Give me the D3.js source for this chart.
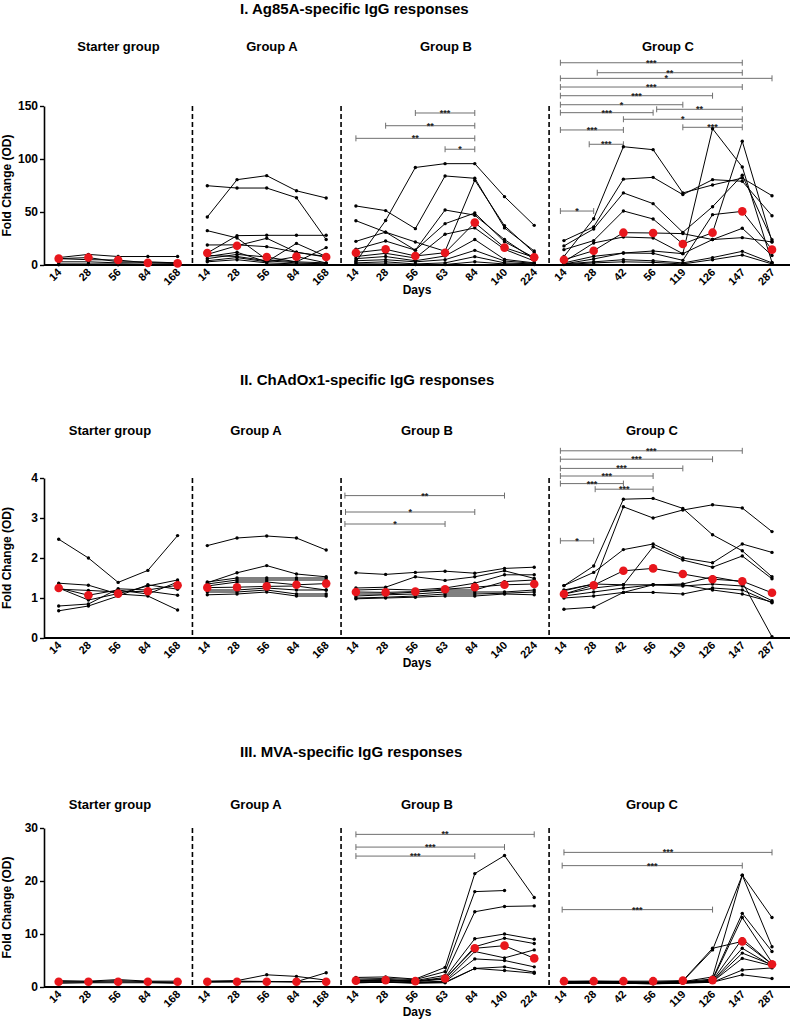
<!DOCTYPE html>
<html><head><meta charset="utf-8">
<script src="https://cdn.jsdelivr.net/npm/d3@7"></script>
<style>
body{margin:0;background:#fff;}
text{font-family:"Liberation Sans",Arial,sans-serif;font-weight:bold;}
</style></head>
<body>
<script>
// ---------- categories ----------
const groups = ["S","A","B","C"];
const groupNames = ["Starter group","Group A","Group B","Group C"];
const days_S = ["14","28","56","84","168"];
const days_A = ["14","28","56","84","168"];
const days_B = ["14","28","56","63","84","140","224"];
const days_C = ["14","28","42","56","119","126","147","287"];
const panelTitles = ["I. Ag85A-specific IgG responses","II. ChAdOx1-specific IgG responses","III. MVA-specific IgG responses"];
const yTicks1 = [0,50,100,150];
const yTicks2 = [0,1,2,3,4];
const yTicks3 = [0,10,20,30];

// ---------- Panel I: Ag85A ----------
const ag85_S = [
 [7,10,8,8,8],[6,7,3,3,2],[6,5,4.7,2,1.5],[3,3,2,2,2],[1,1,1,0.5,0.5],[0.3,0.5,0.3,0.3,0.3]];
const ag85_S_mean = [6,7,4.7,2,1.5];
const ag85_A = [
 [74.8,72.6,72.6,63.5,24],[45.3,80.5,84.3,70,63.2],[32.4,25.5,5,3,2],[18.9,19,17.3,12,7.5],
 [11.3,27.7,28,28,28],[10,18.2,25.2,12,8],[8,12,3,20.4,8],[6,10,7.5,3,16.4],[4,7,3,7.9,2],[3,5,2,1,1],[9,8,4,2,1]];
const ag85_A_mean = [11.3,18.2,7.5,7.9,7.5];
const ag85_B = [
 [3,42,92,95.6,95.6,64.5,37.4],[55.7,51.3,34.3,84,81.8,35,13.2],[41.8,31,21.7,13,80,37,11.6],
 [22.3,31,14,51.9,47,24,5.3],[14.8,22.6,14,39,49,22,7],[11.6,14.8,8.5,11.6,40,16.4,7.2],
 [8,11,6.6,29,35,14.8,3.8],[6,8,4,8.5,24,5.3,2],[4,5,3,5,13.8,3.8,1.5],[2,3,1,2,7.9,2,1],[1,1,0.5,0.5,3,1,0.5]];
const ag85_B_mean = [11.6,14.8,8.5,11.6,40,16.4,7.2];
const ag85_C = [
 [8,43.7,111.6,108.8,68,75.5,82,65.4],[23,36,81,82.7,66.4,80.5,79,46.5],[18,34,68,57.9,30.8,55,84.6,23.9],
 [14.5,23,51,43.4,19.8,30.5,116.7,22],[5,13.5,30.5,30.2,29.6,24,34.6,9],[3,20.8,26.4,25.5,10.7,24,25.8,21.7],
 [2,8.2,11.3,13.2,10.7,128.6,92.5,2.5],[1,5.7,11.3,11,4.4,47.5,50.6,14.5],[1,3,5,4,2,7,12.9,2],[0.5,2,3,2.5,1,5,9.4,1]];
const ag85_C_mean = [5,13.5,30.5,30.2,19.8,30.5,50.6,14.5];
// [group, from, to, level, label, shift of start in category steps]
const ag85_brackets = [
 ["B","56","84",143.4,"***",0],["B","28","84",131.4,"**",0],["B","14","84",119.5,"**",0],["B","63","84",109.2,"*",0],
 ["C","14","147",190.8,"***",-0.12],["C","28","147",181.4,"**",0.12],["C","14","287",176.1,"*",-0.12],
 ["C","14","147",167.9,"***",-0.12],["C","14","126",159.7,"***",-0.12],["C","14","119",151.2,"*",-0.12],
 ["C","14","56",143.7,"***",-0.12],["C","56","147",146.9,"**",0.12],["C","42","147",137.5,"*",0],
 ["C","14","42",127.4,"***",-0.12],["C","119","147",129.9,"***",0],["C","28","42",113.9,"***",-0.15],
 ["C","14","28",50.9,"*",-0.12]];

// ---------- Panel II: ChAdOx1 ----------
const chad_S = [
 [2.47,2.0,1.39,1.69,2.56],[1.37,1.32,1.1,1.05,0.7],[1.25,0.95,1.11,1.3,1.45],
 [1.22,1.19,1.15,1.17,1.07],[0.8,0.85,1.23,1.2,1.32],[0.68,0.8,1.05,1.33,1.22],[1.25,1.07,1.2,1.1,1.4]];
const chad_S_mean = [1.25,1.07,1.11,1.17,1.32];
const chad_A = [
 [2.31,2.5,2.55,2.5,2.2],[1.38,1.63,1.81,1.6,1.53],[1.4,1.5,1.5,1.5,1.5],[1.35,1.45,1.45,1.45,1.45],
 [1.3,1.4,1.4,1.33,1.36],[1.26,1.27,1.29,1.3,1.2],[1.2,1.2,1.25,1.2,1.2],[1.15,1.15,1.2,1.1,1.1],
 [1.08,1.1,1.15,1.05,1.05]];
const chad_A_mean = [1.26,1.27,1.29,1.33,1.36];
const chad_B = [
 [1.63,1.59,1.64,1.67,1.62,1.74,1.77],[1.25,1.27,1.53,1.44,1.53,1.68,1.49],[1.2,1.22,1.2,1.25,1.37,1.58,1.58],
 [1.15,1.14,1.16,1.22,1.27,1.33,1.35],[1.1,1.1,1.15,1.2,1.2,1.41,1.45],[1.05,1.08,1.1,1.15,1.15,1.15,1.2],
 [1.0,1.02,1.05,1.1,1.1,1.12,1.15],[0.98,1.0,1.02,1.05,1.05,1.1,1.08]];
const chad_B_mean = [1.15,1.14,1.16,1.22,1.27,1.33,1.35];
const chad_C = [
 [1.31,1.8,3.47,3.49,3.24,2.58,2.18,1.53],[1.18,1.35,3.28,3.0,3.2,3.33,3.25,2.66],
 [1.31,1.64,2.21,2.35,2.0,1.88,2.35,2.14],[1.2,1.35,1.33,2.28,1.95,1.77,2.05,1.48],
 [1.1,1.32,1.68,1.74,1.6,1.47,1.42,1.13],[1.1,1.25,1.33,1.33,1.35,1.53,1.4,0.03],
 [1.05,1.15,1.25,1.33,1.3,1.35,1.3,0.93],[1.0,1.05,1.14,1.14,1.1,1.25,1.2,0.88],
 [0.72,0.77,1.14,1.33,1.33,1.2,1.1,0.9]];
const chad_C_mean = [1.1,1.32,1.68,1.74,1.6,1.47,1.42,1.13];
const chad_brackets = [
 ["B","14","140",3.56,"**",-0.37],["B","14","84",3.15,"*",-0.35],["B","14","63",2.85,"*",-0.37],
 ["C","14","147",4.68,"***",-0.12],["C","14","126",4.47,"***",-0.12],["C","14","119",4.24,"***",-0.12],
 ["C","14","56",4.05,"***",-0.12],["C","14","42",3.86,"***",-0.12],["C","28","56",3.72,"***",0.05],
 ["C","14","28",2.43,"*",-0.12]];

// ---------- Panel III: MVA ----------
const mva_S = [
 [1.2,1.1,1.4,1.1,1.1],[1.0,1.0,1.2,1.0,0.9],[0.9,0.9,1.0,0.9,0.8],[0.7,0.8,0.8,0.8,0.7]];
const mva_S_mean = [1,1,1,1,1];
const mva_A = [
 [1.1,1.2,2.3,2.0,1.3],[1.0,1.0,1.0,1.0,2.7],[0.9,0.95,1.0,0.95,1.0],[1.05,1.1,1.05,1.0,1.05]];
const mva_A_mean = [1,1,1,1,1];
const mva_B = [
 [1.8,1.9,1.5,3.7,21.4,24.8,16.9],[1.5,1.6,1.4,2.9,18,18.2,null],[1.3,1.4,1.2,2.2,14.2,15.2,15.3],
 [1.2,1.3,1.1,1.8,9.1,10,9],[1.1,1.2,1.0,1.5,7.6,9.2,8.2],[1.2,1.3,1.1,1.6,7.3,7.8,5.4],
 [1.0,1.0,0.9,1.1,6.7,5.5,7],[0.9,1.0,0.8,1.0,5.3,5,3.8],[0.8,0.9,0.8,0.9,3.5,3.8,2.8],[0.8,0.9,0.7,0.8,3.5,3.1,2.6]];
const mva_B_mean = [1.2,1.3,1.1,1.6,7.3,7.8,5.4];
const mva_C = [
 [1.1,1.1,1.1,1.1,1.2,7.3,8.6,4.3],[1.0,1.1,1.0,0.9,1.1,7,21.1,13.1],[1.0,1.0,0.9,0.9,1.0,1.9,21.1,7.6],
 [0.9,1.0,0.9,0.8,1.0,1.5,13.9,6.7],[0.9,0.9,0.9,0.8,0.9,1.3,13.1,4.6],[0.9,0.9,0.8,0.8,0.9,1.2,9.1,4.3],
 [0.8,0.9,0.8,0.7,0.9,1.1,7.3,4.0],[0.8,0.8,0.8,0.7,0.8,1.0,6.4,4.2],[0.8,0.8,0.7,0.7,0.8,1.0,5.4,4.0],
 [0.7,0.8,0.7,0.6,0.8,0.9,3.2,3.6],[0.7,0.7,0.7,0.6,0.7,0.9,2.3,1.6]];
const mva_C_mean = [1.1,1.1,1.1,1.1,1.2,1.3,8.6,4.3];
const mva_brackets = [
 ["B","14","224",28.8,"**",0],["B","14","140",26.4,"***",0],["B","14","84",24.7,"***",0],
 ["C","14","287",25.4,"***",0],["C","14","147",22.9,"***",-0.06],["C","14","126",14.6,"***",-0.06]];

// ---------- layout ----------
const W = 791, H = 1026;
const daysBy = {S:days_S, A:days_A, B:days_B, C:days_C};
const keys = [];
groups.forEach(g => daysBy[g].forEach(d => keys.push(g + "-" + d)));
const x = d3.scalePoint().domain(keys).range([58.7, 772]);
const step = x.step();
const axisX0 = 44, axisX1 = 790;

const panels = [
 {title:panelTitles[0], titleY:13.5, gtY:50.5, gtX:[118.5,272,446,668], top:106, bottom:265, domain:[0,150], ticks:yTicks1,
  series:{S:ag85_S,A:ag85_A,B:ag85_B,C:ag85_C}, means:{S:ag85_S_mean,A:ag85_A_mean,B:ag85_B_mean,C:ag85_C_mean}, brackets:ag85_brackets},
 {title:panelTitles[1], titleY:384.5, gtY:434.5, gtX:[110,256,427,652], top:478, bottom:638, domain:[0,4], ticks:yTicks2,
  series:{S:chad_S,A:chad_A,B:chad_B,C:chad_C}, means:{S:chad_S_mean,A:chad_A_mean,B:chad_B_mean,C:chad_C_mean}, brackets:chad_brackets},
 {title:panelTitles[2], titleY:757, gtY:809, gtX:[110,256,427,652], top:828, bottom:987, domain:[0,30], ticks:yTicks3,
  series:{S:mva_S,A:mva_A,B:mva_B,C:mva_C}, means:{S:mva_S_mean,A:mva_A_mean,B:mva_B_mean,C:mva_C_mean}, brackets:mva_brackets}
];

const svg = d3.select("body").append("svg").attr("width", W).attr("height", H);

panels.forEach(p => {
  const g = svg.append("g");
  const y = d3.scaleLinear().domain(p.domain).range([p.bottom, p.top]);

  g.append("text").attr("x", 240).attr("y", p.titleY).attr("font-size", 15).attr("fill", "#000").text(p.title);
  groupNames.forEach((n, i) => g.append("text").attr("x", p.gtX[i]).attr("y", p.gtY)
     .attr("text-anchor", "middle").attr("font-size", 13).text(n));

  // separators
  for (let i = 0; i < 3; i++) {
    const a = groups[i], b = groups[i+1];
    const xa = x(a + "-" + daysBy[a][daysBy[a].length-1]), xb = x(b + "-" + daysBy[b][0]);
    g.append("line").attr("x1", (xa+xb)/2).attr("x2", (xa+xb)/2).attr("y1", p.top).attr("y2", p.bottom)
      .attr("stroke", "#000").attr("stroke-width", 1.6).attr("stroke-dasharray", "5,3");
  }

  // y axis
  const ya = g.append("g").attr("transform", `translate(${axisX0},0)`)
    .call(d3.axisLeft(y).tickValues(p.ticks).tickFormat(d3.format("d")).tickSize(4).tickSizeOuter(0).tickPadding(2));
  ya.select(".domain").attr("stroke-width", 1.6);
  ya.selectAll(".tick line").attr("stroke-width", 1.4);
  ya.selectAll("text").attr("font-size", 12).attr("font-family", "Liberation Sans, Arial").attr("font-weight", "bold");
  g.append("text").attr("transform", `translate(11,${(p.top+p.bottom)/2}) rotate(-90)`)
    .attr("text-anchor", "middle").attr("font-size", 12).text("Fold  Change (OD)");

  // x axis
  const xa = g.append("g").attr("transform", `translate(0,${p.bottom})`)
    .call(d3.axisBottom(x).tickSize(0).tickFormat(k => k.split("-")[1]));
  xa.select(".domain").remove();
  xa.selectAll("text").attr("font-size", 11).attr("font-family", "Liberation Sans, Arial").attr("font-weight", "bold")
    .attr("text-anchor", "end").attr("dy", null).attr("y", null)
    .attr("transform", "translate(3,8) rotate(-45)");
  g.append("line").attr("x1", axisX0).attr("x2", axisX1).attr("y1", p.bottom).attr("y2", p.bottom)
    .attr("stroke", "#000").attr("stroke-width", 1.8);
  g.append("text").attr("x", 417).attr("y", p.bottom + 29).attr("text-anchor", "middle").attr("font-size", 12).text("Days");

  // brackets
  p.brackets.forEach(([grp, f, t, lv, lab, sh]) => {
    const x1 = x(grp + "-" + f) + (sh || 0) * step, x2 = x(grp + "-" + t);
    const yy = y(lv);
    const bg = g.append("g").attr("stroke", "#6f6f6f").attr("stroke-width", 1);
    bg.append("line").attr("x1", x1).attr("x2", x2).attr("y1", yy).attr("y2", yy);
    bg.append("line").attr("x1", x1).attr("x2", x1).attr("y1", yy-3).attr("y2", yy+3);
    bg.append("line").attr("x1", x2).attr("x2", x2).attr("y1", yy-3).attr("y2", yy+3);
    g.append("text").attr("x", (x1+x2)/2).attr("y", yy + 3).attr("text-anchor", "middle")
      .attr("font-size", 9).attr("fill", "#222").text(lab);
  });

  // series
  groups.forEach(gr => {
    const ks = daysBy[gr].map(d => gr + "-" + d);
    const line = d3.line().defined(d => d != null).x((d, i) => x(ks[i])).y(d => y(d));
    p.series[gr].forEach(s => {
      g.append("path").attr("d", line(s)).attr("fill", "none").attr("stroke", "#000").attr("stroke-width", 1);
      s.forEach((v, i) => { if (v != null) g.append("circle").attr("cx", x(ks[i])).attr("cy", y(v)).attr("r", 1.7).attr("fill", "#000"); });
    });
    p.means[gr].forEach((v, i) => g.append("circle").attr("cx", x(ks[i])).attr("cy", y(v)).attr("r", 4.3).attr("fill", "#e8161c"));
  });
});
</script>
</body></html>
